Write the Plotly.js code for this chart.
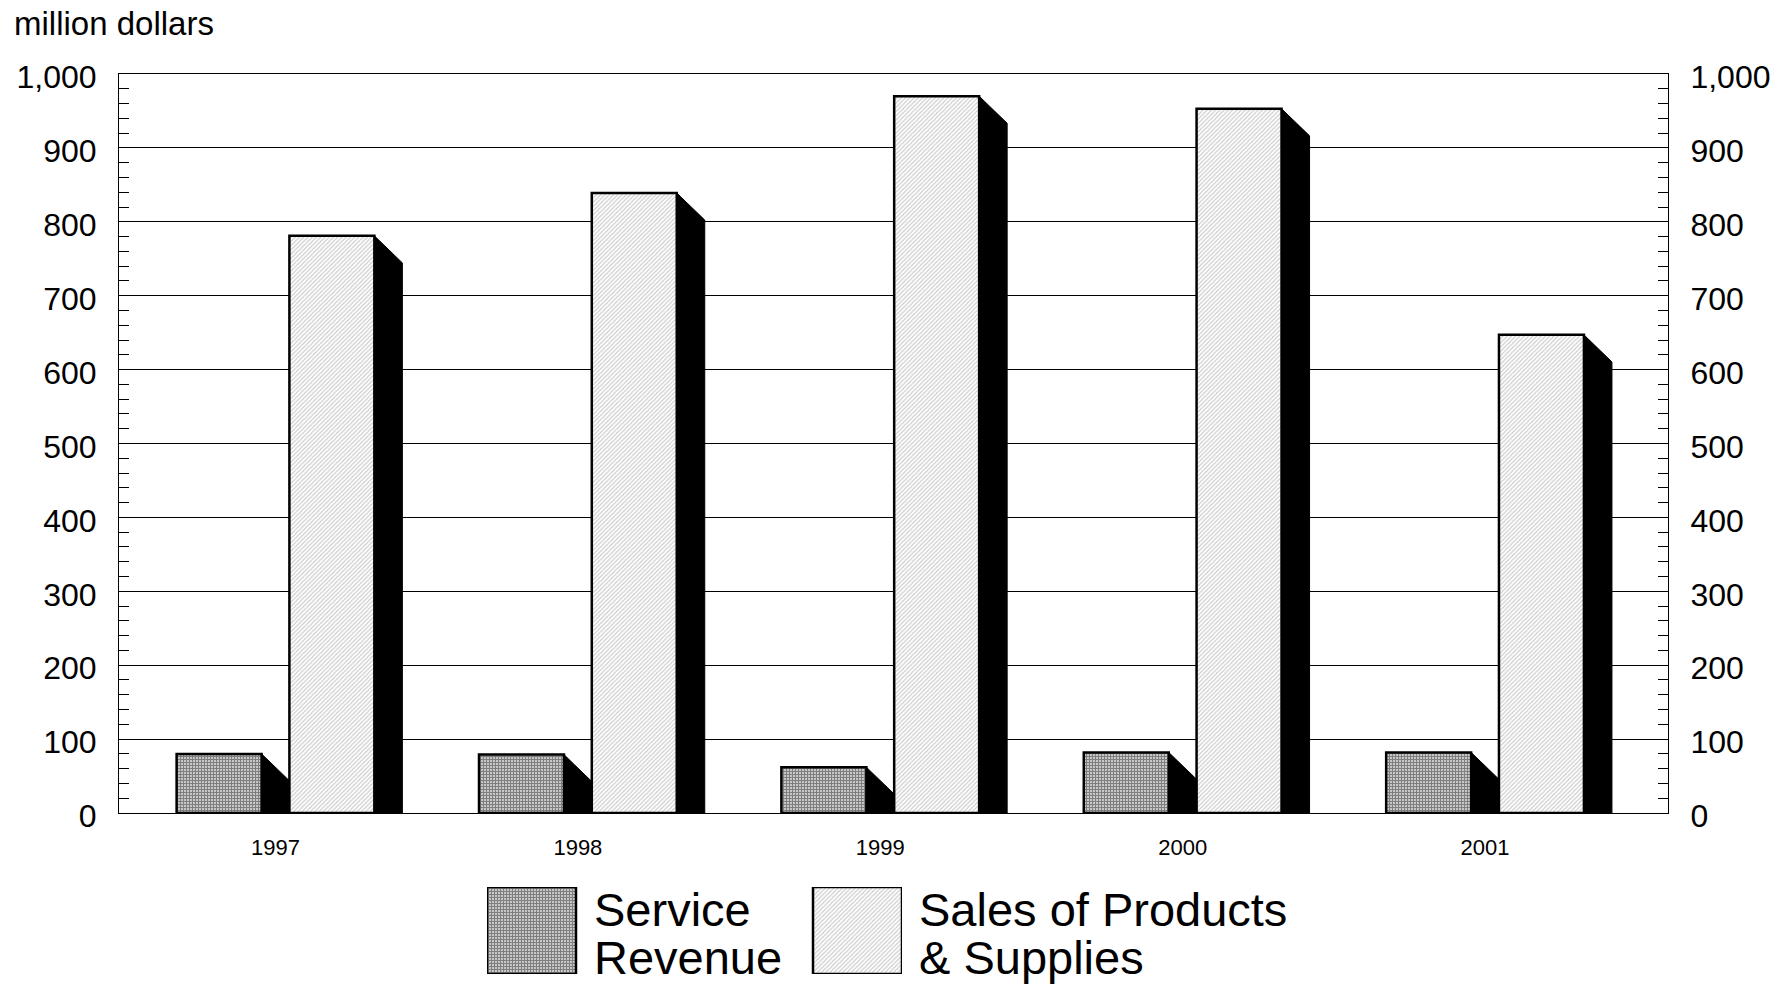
<!DOCTYPE html>
<html>
<head>
<meta charset="utf-8">
<script src="https://cdn.plot.ly/plotly-3.0.1.min.js"></script>
<style>
  html, body { margin: 0; padding: 0; background: #fff; }
  #chart { width: 1791px; height: 984px; }
</style>
</head>
<body>
<div id="chart"></div>
<script>
// ---- data ----
const years = ['1997', '1998', '1999', '2000', '2001'];
const serviceRevenue = [80, 79, 62, 82, 82];
const salesProducts = [781, 839, 970, 953, 647];
const serviceLabelLines = ['Service', 'Revenue'];
const salesLabelLines = ['Sales of Products', '& Supplies'];
const unitLabel = 'million dollars';

// ---- style constants ----
const FONT = 'Liberation Sans, Arial, sans-serif';
const BAR_W = 0.281;
const OFF_SERVICE = -0.327;
const OFF_SALES = 0.046;
const DEPTH_X = 0.0926;   // 3D side depth in category units
const DEPTH_Y = 36.6;     // 3D side drop in value units

const xIdx = years.map((_, i) => i);

const patService = { shape: '+', size: 3, solidity: 0.75, fgcolor: '#000', bgcolor: '#fff', fillmode: 'overlay' };
const patSales = { shape: '/', size: 3, solidity: 0.4, fgcolor: '#9a9a9a', bgcolor: '#fff', fillmode: 'overlay' };

function sidePolygons(values, offset) {
  const xs = [], ys = [];
  values.forEach((v, i) => {
    const xr = xIdx[i] + offset + BAR_W;
    xs.push(xr, xr + DEPTH_X, xr + DEPTH_X, xr, xr, null);
    ys.push(v, v - DEPTH_Y, 0, 0, v, null);
  });
  return { xs, ys };
}

const sideS = sidePolygons(serviceRevenue, OFF_SERVICE);
const sideP = sidePolygons(salesProducts, OFF_SALES);

const traces = [
  {
    type: 'bar', x: xIdx, y: serviceRevenue, width: BAR_W, offset: OFF_SERVICE,
    marker: { color: '#fff', pattern: patService, line: { color: '#000', width: 2.5 } },
    name: serviceLabelLines.join(' '), showlegend: false, hoverinfo: 'y'
  },
  {
    type: 'bar', x: xIdx, y: salesProducts, width: BAR_W, offset: OFF_SALES,
    marker: { color: '#fff', pattern: patSales, line: { color: '#000', width: 2.5 } },
    name: salesLabelLines.join(' '), showlegend: false, hoverinfo: 'y'
  },
  {
    type: 'scatter', mode: 'lines', x: sideS.xs, y: sideS.ys, fill: 'toself',
    fillcolor: '#000', line: { color: '#000', width: 1 }, showlegend: false, hoverinfo: 'skip'
  },
  {
    type: 'scatter', mode: 'lines', x: sideP.xs, y: sideP.ys, fill: 'toself',
    fillcolor: '#000', line: { color: '#000', width: 1 }, showlegend: false, hoverinfo: 'skip'
  },
  // right-hand axis carrier
  {
    type: 'scatter', mode: 'markers', x: [xIdx[0]], y: [0], yaxis: 'y2',
    marker: { opacity: 0 }, showlegend: false, hoverinfo: 'skip'
  },
  // legend swatches
  {
    type: 'bar', x: [44.5], y: [1], base: 0, width: 89, xaxis: 'x3', yaxis: 'y3',
    marker: { color: '#fff', pattern: patService, line: { color: '#000', width: 2.5 } },
    showlegend: false, hoverinfo: 'skip'
  },
  {
    type: 'bar', x: [370.5], y: [1], base: 0, width: 89, xaxis: 'x3', yaxis: 'y3',
    marker: { color: '#fff', pattern: patSales, line: { color: '#000', width: 2.5 } },
    showlegend: false, hoverinfo: 'skip'
  }
];

const yCommon = {
  range: [0, 1000], dtick: 100, tick0: 0, tickformat: ',d',
  tickfont: { family: FONT, size: 32, color: '#000' },
  ticks: '', showline: true, linecolor: '#000', linewidth: 1,
  zeroline: false, fixedrange: true,
  minor: { dtick: 20, ticks: 'inside', ticklen: 10, tickcolor: '#000', tickwidth: 1, showgrid: false },
  ticklabelstandoff: 15,
  ticklabelshift: 3,
  domain: [0.17889, 1]
};

function legendLine(text, px, py) {
  return {
    text: text, xref: 'paper', yref: 'paper',
    x: (px - 119) / 1549, y: (974 - py) / 900,
    xanchor: 'left', yanchor: 'middle', align: 'left', showarrow: false,
    font: { family: FONT, size: 47, color: '#000' }
  };
}

const layout = {
  width: 1791, height: 984,
  margin: { l: 119, r: 123, t: 74, b: 10, pad: 0 },
  paper_bgcolor: '#fff', plot_bgcolor: '#fff',
  barmode: 'overlay',
  font: { family: FONT, color: '#000' },
  showlegend: false,
  xaxis: {
    range: [-0.5175, 4.605], tickvals: xIdx, ticktext: years,
    tickfont: { family: FONT, size: 22, color: '#000' },
    ticks: '', showgrid: false, zeroline: false,
    showline: true, mirror: true, linecolor: '#000', linewidth: 1.5,
    ticklabelstandoff: 14, fixedrange: true, anchor: 'y'
  },
  yaxis: Object.assign({}, yCommon, {
    side: 'left', showgrid: true, gridcolor: '#000', gridwidth: 1, anchor: 'x'
  }),
  yaxis2: Object.assign({}, yCommon, {
    side: 'right', overlaying: 'y', showgrid: false, anchor: 'x'
  }),
  xaxis3: { domain: [0.23757, 0.50549], range: [0, 415], visible: false, anchor: 'y3', fixedrange: true },
  yaxis3: { domain: [0, 0.09667], range: [0, 1], visible: false, anchor: 'x3', fixedrange: true },
  annotations: [
    {
      text: unitLabel, xref: 'paper', yref: 'paper', x: (12 - 119) / 1549, y: 1.033,
      xanchor: 'left', yanchor: 'bottom', showarrow: false,
      font: { family: FONT, size: 33, color: '#000' }
    },
    legendLine(serviceLabelLines[0], 592, 909),
    legendLine(serviceLabelLines[1], 592, 957),
    legendLine(salesLabelLines[0], 917, 909),
    legendLine(salesLabelLines[1], 917, 957)
  ]
};

Plotly.newPlot('chart', traces, layout, { displayModeBar: false, staticPlot: true });
</script>
</body>
</html>
